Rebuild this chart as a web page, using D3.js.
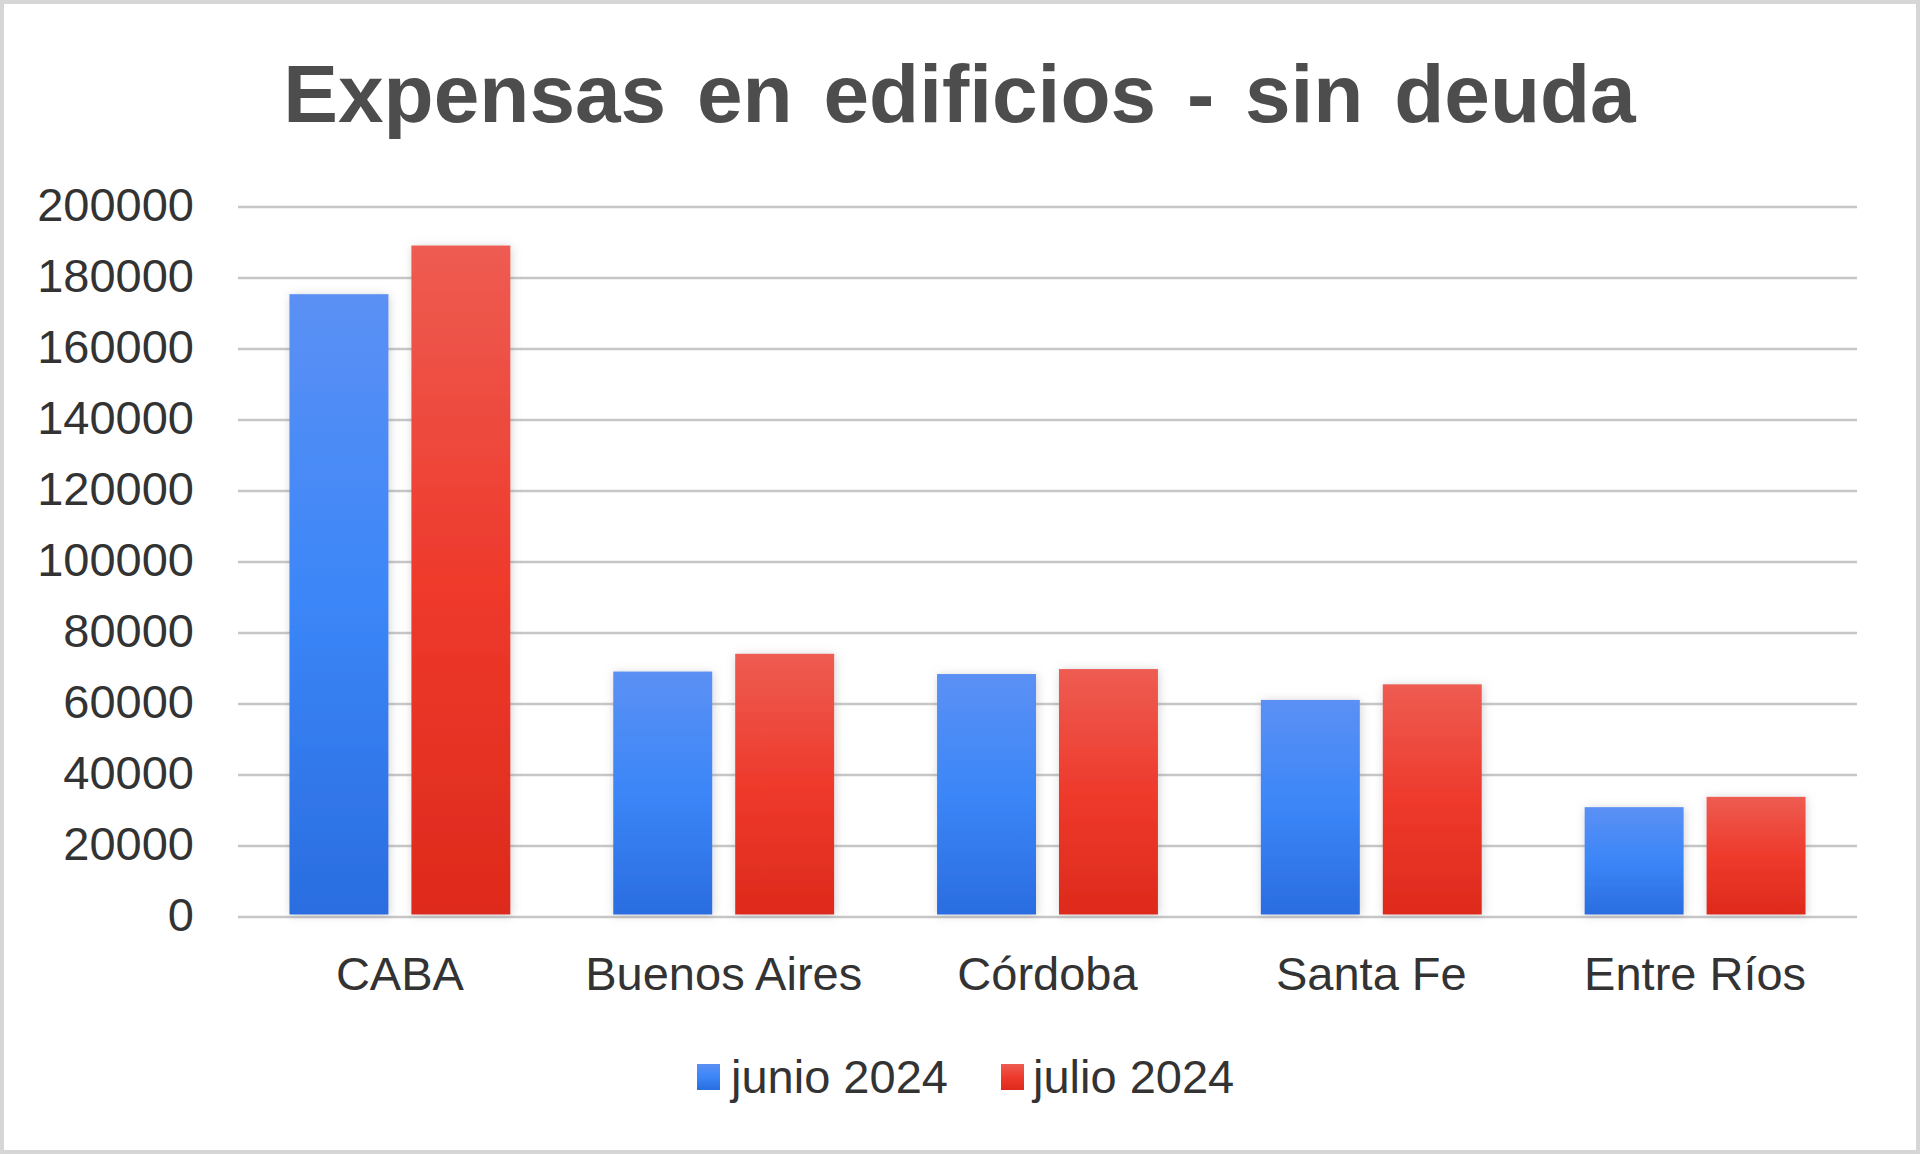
<!DOCTYPE html>
<html>
<head>
<meta charset="utf-8">
<script src="https://cdn.jsdelivr.net/npm/d3@7"></script>
<style>
  html, body { margin: 0; padding: 0; background: #fff; }
  svg { display: block; }
</style>
</head>
<body>
<svg id="chart" width="1920" height="1154"></svg>
<script>
const title = "Expensas en edificios - sin deuda";
const categories = ["CABA", "Buenos Aires", "Córdoba", "Santa Fe", "Entre Ríos"];
const seriesNames = ["junio 2024", "julio 2024"];
const junio2024 = [175300, 69000, 68300, 61000, 30800];
const julio2024 = [189000, 74000, 69700, 65400, 33700];
const yTicks = [0, 20000, 40000, 60000, 80000, 100000, 120000, 140000, 160000, 180000, 200000];

const W = 1920, H = 1154;
const margin = { left: 238, right: 63, top: 206.5, bottom: 237.5 };
const svg = d3.select("#chart");

// border
svg.append("rect").attr("x", 2).attr("y", 2).attr("width", W - 4).attr("height", H - 4)
  .attr("fill", "#fff").attr("stroke", "#d6d6d6").attr("stroke-width", 4);

const defs = svg.append("defs");
const gradBlue = defs.append("linearGradient").attr("id", "gBlue").attr("x1", 0).attr("y1", 0).attr("x2", 0).attr("y2", 1);
gradBlue.append("stop").attr("offset", "0%").attr("stop-color", "#5b90f4");
gradBlue.append("stop").attr("offset", "50%").attr("stop-color", "#3b86f8");
gradBlue.append("stop").attr("offset", "100%").attr("stop-color", "#2a6de0");
const gradRed = defs.append("linearGradient").attr("id", "gRed").attr("x1", 0).attr("y1", 0).attr("x2", 0).attr("y2", 1);
gradRed.append("stop").attr("offset", "0%").attr("stop-color", "#ee5c52");
gradRed.append("stop").attr("offset", "50%").attr("stop-color", "#ee3a2c");
gradRed.append("stop").attr("offset", "100%").attr("stop-color", "#de2a1c");
const shadow = defs.append("filter").attr("id", "shadow").attr("x", "-20%").attr("y", "-10%").attr("width", "140%").attr("height", "120%");
shadow.append("feDropShadow").attr("dx", 1).attr("dy", 1).attr("stdDeviation", 5)
  .attr("flood-color", "#808080").attr("flood-opacity", 0.35);

const x0 = d3.scaleBand().domain(categories).range([margin.left, W - margin.right]).paddingInner(0).paddingOuter(0);
const x1 = d3.scaleBand().domain(seriesNames).range([0, x0.bandwidth()]).paddingInner(0.1885).paddingOuter(0.422);
const y = d3.scaleLinear().domain([0, 200000]).range([H - margin.bottom + 0, margin.top]);

// gridlines
const yAxis = d3.axisLeft(y).tickValues(yTicks).tickSize(-(W - margin.left - margin.right)).tickPadding(44).tickFormat(d3.format("d"));
const gy = svg.append("g").attr("transform", `translate(${margin.left},0)`).call(yAxis);
gy.select(".domain").remove();
gy.selectAll(".tick line").attr("stroke", "#c6c6c6").attr("stroke-width", 2.5);
gy.selectAll(".tick text").attr("font-family", "Liberation Sans, Arial, sans-serif")
  .attr("font-size", 47).attr("fill", "#333").attr("dy", "0.3em");

// bars
const colors = { "junio 2024": "url(#gBlue)", "julio 2024": "url(#gRed)" };
const seriesData = { "junio 2024": junio2024, "julio 2024": julio2024 };
const groups = svg.append("g").selectAll("g").data(categories).join("g")
  .attr("transform", d => `translate(${x0(d)},0)`);
groups.selectAll("rect").data((c, i) => seriesNames.map(s => ({ s, v: seriesData[s][i] })))
  .join("rect")
  .attr("x", d => x1(d.s)).attr("width", x1.bandwidth())
  .attr("y", d => y(d.v)).attr("height", d => y(0) - 2 - y(d.v))
  .attr("fill", d => colors[d.s]).attr("filter", "url(#shadow)");

// x axis labels
const xAxis = d3.axisBottom(x0).tickSize(0).tickPadding(0);
const gx = svg.append("g").attr("transform", `translate(0,${y(0)})`).call(xAxis);
gx.select(".domain").remove();
gx.selectAll(".tick text").attr("font-family", "Liberation Sans, Arial, sans-serif")
  .attr("font-size", 47).attr("fill", "#333").attr("dy", 0).attr("y", 73.5);

// title
svg.append("text").attr("x", 959.5).attr("y", 121.5).attr("text-anchor", "middle")
  .attr("font-family", "Liberation Sans, Arial, sans-serif").attr("font-weight", "bold")
  .attr("font-size", 82).attr("word-spacing", 8).attr("fill", "#4d4d4d").text(title);

// legend
const legendItems = [
  { name: seriesNames[0], fill: "url(#gBlue)", sx: 697, tx: 731 },
  { name: seriesNames[1], fill: "url(#gRed)", sx: 1001, tx: 1033 }
];
const lg = svg.append("g");
legendItems.forEach(it => {
  lg.append("rect").attr("x", it.sx).attr("y", 1064).attr("width", 23).attr("height", 26).attr("fill", it.fill);
  lg.append("text").attr("x", it.tx).attr("y", 1092.5)
    .attr("font-family", "Liberation Sans, Arial, sans-serif").attr("font-size", 47).attr("fill", "#333").text(it.name);
});
</script>
</body>
</html>
